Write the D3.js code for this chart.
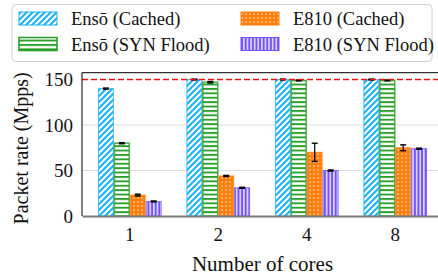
<!DOCTYPE html>
<html><head><meta charset="utf-8">
<script src="https://cdn.jsdelivr.net/npm/d3@7"></script>
<style>body{margin:0;background:#fff}svg{display:block}svg text{font-family:"Liberation Serif","DejaVu Serif",serif !important;fill:#111}</style>
</head><body><svg id="c" width="438" height="275"></svg>
<script>
const categories = ["1", "2", "4", "8"];
const seriesNames = ["Ensō (Cached)", "Ensō (SYN Flood)", "E810 (Cached)", "E810 (SYN Flood)"];
const ensoCached = [140, 150, 150, 150];
const ensoSyn = [80, 147, 149, 149];
const e810Cached = [23, 44, 70, 75];
const e810Syn = [16, 31, 50, 74];
const ensoCachedErr = [0.6, 0.5, 0.5, 0.5];
const ensoSynErr = [0.6, 0.8, 0.5, 0.5];
const e810CachedErr = [1.0, 0.6, 10, 3.2];
const e810SynErr = [0.5, 0.6, 0.6, 0.6];
const yTicks = [0, 50, 100, 150];
const lineRate = 150;

const values = [ensoCached, ensoSyn, e810Cached, e810Syn];
const errs = [ensoCachedErr, ensoSynErr, e810CachedErr, e810SynErr];
const colors = ["#1fb2f5", "#2ca02c", "#ff7f0e", "#7251ff"];

const svg = d3.select("#c");
const defs = svg.append("defs");
// patterns
let p = defs.append("pattern").attr("id","p0").attr("patternUnits","userSpaceOnUse").attr("width",6).attr("height",6);
p.append("rect").attr("width",6).attr("height",6).attr("fill",colors[0]);
p.append("path").attr("d","M-1.5,1.5 L1.5,-1.5 M0,6 L6,0 M4.5,7.5 L7.5,4.5").attr("stroke","#fff").attr("stroke-width",2.1);
p = defs.append("pattern").attr("id","p1").attr("patternUnits","userSpaceOnUse").attr("width",6).attr("height",4.4);
p.append("rect").attr("width",6).attr("height",4.4).attr("fill","#fff");
p.append("rect").attr("y",0).attr("width",6).attr("height",1.9).attr("fill",colors[1]);
p = defs.append("pattern").attr("id","p2").attr("patternUnits","userSpaceOnUse").attr("width",4).attr("height",4);
p.append("rect").attr("width",4).attr("height",4).attr("fill",colors[2]);
p.append("rect").attr("x",1.5).attr("y",1.5).attr("width",1.2).attr("height",1.2).attr("fill","#fff");
p = defs.append("pattern").attr("id","p3").attr("patternUnits","userSpaceOnUse").attr("width",3.6).attr("height",4);
p.append("rect").attr("width",3.6).attr("height",4).attr("fill",colors[3]);
p.append("rect").attr("x",2).attr("width",1.3).attr("height",4).attr("fill","#fff");

const L = 82, R = 443, T = 72.7, B = 216;
const x = d3.scaleBand().domain(categories).range([L, R]).paddingInner(0.28).paddingOuter(0.18);
const xs = d3.scaleBand().domain(d3.range(4)).range([0, x.bandwidth()]);
const y = d3.scaleLinear().domain([0, 157.5]).range([B, T]);

// grid
svg.append("g").selectAll("line").data(yTicks.filter(d=>d>0 && d<150)).join("line")
  .attr("x1",L).attr("x2",R).attr("y1",d=>y(d)).attr("y2",d=>y(d)).attr("stroke","#dcdcdc").attr("stroke-width",1);

// bars
const g = svg.append("g");
categories.forEach((c, ci) => {
  values.forEach((vals, si) => {
    const bx = x(c) + xs(si), bw = xs.bandwidth();
    g.append("rect").attr("x", bx+0.5).attr("y", y(vals[ci])).attr("width", bw-1).attr("height", y(0)-y(vals[ci]))
      .attr("fill", `url(#p${si})`).attr("stroke", colors[si]).attr("stroke-width", si===1?1.6:1).attr("stroke-opacity",0.8);
    const cx = bx + bw/2, e = errs[si][ci];
    const y1 = y(vals[ci]+e), y2 = y(vals[ci]-e);
    g.append("line").attr("x1",cx).attr("x2",cx).attr("y1",y1).attr("y2",y2).attr("stroke","#000").attr("stroke-width",1.2);
    [y1,y2].forEach(yy=>g.append("line").attr("x1",cx-3).attr("x2",cx+3).attr("y1",yy).attr("y2",yy).attr("stroke","#000").attr("stroke-width",1.4));
  });
});

// line rate
svg.append("line").attr("x1",L).attr("x2",R).attr("y1",y(lineRate)).attr("y2",y(lineRate))
  .attr("stroke","#f01414").attr("stroke-width",1.6).attr("stroke-dasharray","6,3");

// frame
svg.append("line").attr("x1",L).attr("x2",R).attr("y1",T).attr("y2",T).attr("stroke","#000").attr("stroke-width",1);
svg.append("line").attr("x1",L).attr("x2",L).attr("y1",T).attr("y2",B).attr("stroke","#000").attr("stroke-width",1);

// axes
const ya = svg.append("g").attr("transform",`translate(${L},0)`).call(d3.axisLeft(y).tickValues(yTicks).tickSize(0).tickPadding(9));
ya.select(".domain").remove();
ya.selectAll("text").attr("font-size",19).attr("fill","#111");
const xa = svg.append("g").attr("transform",`translate(0,${B})`).call(d3.axisBottom(x).tickSize(0).tickPadding(12));
xa.select(".domain").attr("stroke","#7a7a7a").attr("stroke-width",2);
xa.selectAll("text").attr("font-size",19).attr("fill","#111");

svg.append("text").attr("x",(L+R)/2).attr("y",271).attr("text-anchor","middle").attr("font-size",21).text("Number of cores");
svg.append("text").attr("transform",`translate(28,${(T+B)/2+4}) rotate(-90)`).attr("text-anchor","middle").attr("font-size",20).text("Packet rate (Mpps)");

// legend
const lg = svg.append("g");
lg.append("rect").attr("x",12).attr("y",4.5).attr("width",420).attr("height",57).attr("rx",4).attr("fill","#fff").attr("stroke","#d0d0d0").attr("stroke-width",1);
const pos = [[19,12],[19,37.5],[241,12],[241,37.5]];
seriesNames.forEach((n,i)=>{
  const [px,py] = pos[i];
  lg.append("rect").attr("x",px).attr("y",py).attr("width",38).attr("height",13).attr("fill",`url(#p${i})`).attr("stroke",colors[i]).attr("stroke-width",i===1?1.6:1);
  lg.append("text").attr("x",px+52).attr("y",py+13).attr("font-size",18.5).text(n);
});
</script></body></html>
